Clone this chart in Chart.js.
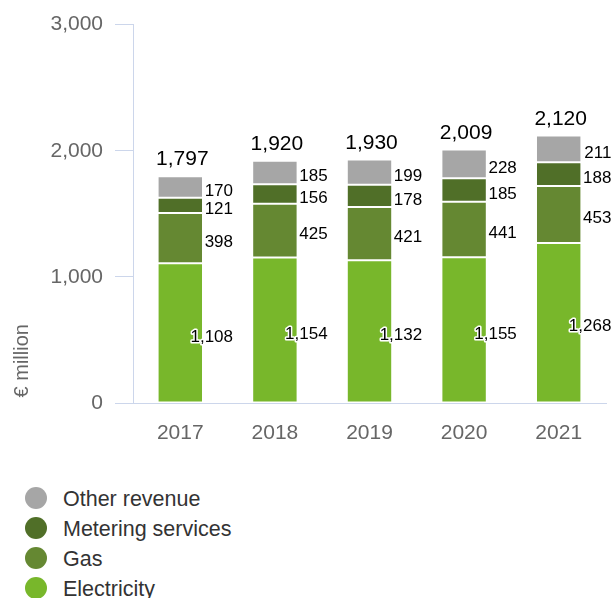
<!DOCTYPE html>
<html>
<head>
<meta charset="utf-8">
<script src="https://cdn.jsdelivr.net/npm/chart.js@4"></script>
<style>
    body { margin: 0; background: #fff; font-family: "Liberation Sans", Arial, sans-serif; }
    .wrap { position: relative; width: 614px; height: 598px; }
    canvas { position: absolute; left: 0; top: 0; }
    .legend { position: absolute; left: 25px; top: 484px; margin: 0; padding: 0; list-style: none; }
    .legend li { height: 30px; line-height: 30px; font-size: 21.5px; color: #333; white-space: nowrap; }
    .legend .dot { display: inline-block; width: 22px; height: 22px; border-radius: 50%; vertical-align: middle; margin: -4px 16px 0 0; }
</style>
</head>
<body>
<div class="wrap">
    <canvas id="revenue" width="614" height="470"></canvas>
    <ul class="legend"></ul>
</div>
<script>
// data
const years = ['2017', '2018', '2019', '2020', '2021']
const electricity = [1108, 1154, 1132, 1155, 1268]
const gas = [398, 425, 421, 441, 453]
const metering = [121, 156, 178, 185, 188]
const other = [170, 185, 199, 228, 211]
const yTicks = [0, 1000, 2000, 3000]

const fontFamily = '"Liberation Sans", Arial, sans-serif'
const axisColor = '#ccd6eb'

// value labels next to each segment + totals on top
const labelsPlugin = {
    id: 'labels',
    afterDatasetsDraw(chart) {
        const ctx = chart.ctx
        ctx.save()
        ctx.font = '17px ' + fontFamily
        ctx.textAlign = 'right'
        ctx.textBaseline = 'middle'
        ctx.lineJoin = 'round'
        chart.data.datasets.forEach((ds, i) => {
            chart.getDatasetMeta(i).data.forEach((bar, j) => {
                const p = bar.getProps(['x', 'y', 'base', 'width'], true)
                const txt = ds.data[j].toLocaleString('en-US')
                const x = p.x + p.width / 2 + 30
                const y = (p.y + p.base) / 2 + 4
                ctx.strokeStyle = '#fff'
                ctx.lineWidth = 3
                ctx.strokeText(txt, x, y)
                ctx.fillStyle = '#000'
                ctx.fillText(txt, x, y)
            })
        })

        // totals
        const last = chart.getDatasetMeta(chart.data.datasets.length - 1)
        ctx.font = '21px ' + fontFamily
        ctx.textAlign = 'center'
        ctx.textBaseline = 'alphabetic'
        ctx.fillStyle = '#000'
        last.data.forEach((bar, j) => {
            const p = bar.getProps(['x', 'y'], true)
            let total = 0
            chart.data.datasets.forEach(ds => total += ds.data[j])
            ctx.fillText(total.toLocaleString('en-US'), p.x + 2, p.y - 11)
        })
        ctx.restore()
    }
}

const datasets = [
    { label: 'Electricity', data: electricity, backgroundColor: '#78b72b' },
    { label: 'Gas', data: gas, backgroundColor: '#658832' },
    { label: 'Metering services', data: metering, backgroundColor: '#506f28' },
    { label: 'Other revenue', data: other, backgroundColor: '#a6a6a6' }
]
datasets.forEach(ds => {
    ds.borderColor = '#fff'
    ds.borderWidth = 1
    ds.borderSkipped = false
    ds.barPercentage = 0.48
    ds.categoryPercentage = 1
})

const chart = new Chart(document.getElementById('revenue'), {
    type: 'bar',
    data: { labels: years, datasets: datasets },
    options: {
        responsive: false,
        animation: false,
        layout: { padding: { top: 20, right: 8, left: 0, bottom: 0 } },
        plugins: {
            legend: { display: false },
            tooltip: { enabled: false }
        },
        scales: {
            x: {
                stacked: true,
                afterFit: (s) => { s.height = 67 },
                grid: { drawOnChartArea: false, drawTicks: false, color: axisColor },
                border: { color: axisColor, width: 1 },
                ticks: { color: '#666', font: { size: 21, family: fontFamily }, padding: 18 }
            },
            y: {
                stacked: true,
                min: 0,
                max: 3000,
                afterFit: (s) => { s.width = 133 },
                afterBuildTicks: (s) => { s.ticks = yTicks.map(v => ({ value: v })) },
                grid: { drawOnChartArea: false, tickLength: 18, color: axisColor },
                border: { color: axisColor, width: 1 },
                ticks: { color: '#666', font: { size: 21, family: fontFamily }, padding: 12 },
                title: {
                    display: true,
                    text: '\u00a0€ million',
                    align: 'start',
                    color: '#666',
                    font: { size: 20, family: fontFamily },
                    padding: { top: 10, bottom: 0 }
                }
            }
        }
    },
    plugins: [labelsPlugin]
})

// legend (reverse of stacking order)
const legend = document.getElementsByClassName('legend')[0]
chart.data.datasets.slice().reverse().forEach(ds => {
    legend.innerHTML += `<li><span class="dot" style="background:${ds.backgroundColor}"></span>${ds.label}</li>`
})
</script>
</body>
</html>
